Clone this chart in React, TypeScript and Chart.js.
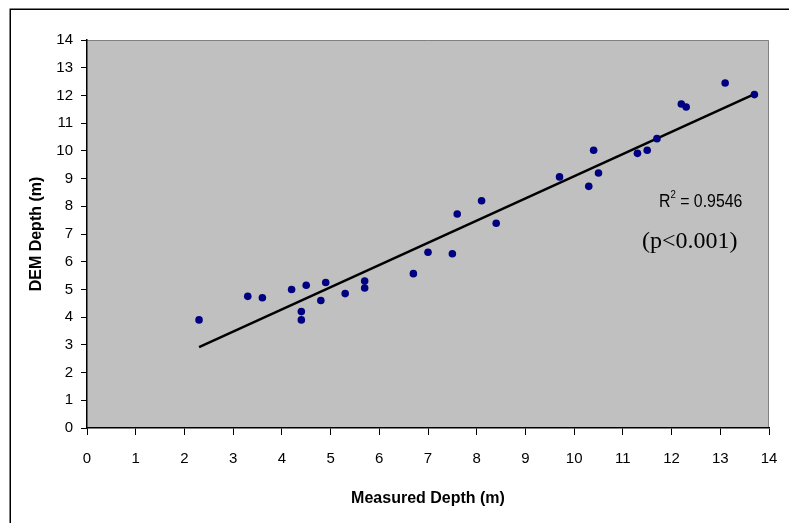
import React, { useEffect, useRef } from "react";
import { Chart, registerables } from "chart.js";

Chart.register(...registerables);

const measuredDepth = [2.3, 3.3, 3.6, 4.2, 4.5, 4.4, 4.4, 4.8, 4.9, 5.3, 5.7, 5.7, 6.7, 7.0, 7.5, 7.6, 8.1, 8.4, 9.7, 10.3, 10.4, 10.5, 11.3, 11.5, 11.7, 12.2, 12.3, 13.1, 13.7];
const demDepth = [3.9, 4.75, 4.7, 5.0, 5.15, 4.2, 3.9, 4.6, 5.25, 4.85, 5.3, 5.05, 5.57, 6.34, 6.29, 7.72, 8.2, 7.39, 9.06, 8.72, 10.02, 9.2, 9.91, 10.02, 10.44, 11.69, 11.58, 12.45, 12.03];
const trendX = [2.3, 13.7];
const trendY = [2.92, 12.05];
const xTicks = [0, 1, 2, 3, 4, 5, 6, 7, 8, 9, 10, 11, 12, 13, 14];
const yTicks = [0, 1, 2, 3, 4, 5, 6, 7, 8, 9, 10, 11, 12, 13, 14];
const r2Text = "0.9546";
const pText = "(p<0.001)";

const SANS = "'Liberation Sans', Arial, sans-serif";

export default function App() {
  const ref = useRef<HTMLCanvasElement | null>(null);
  useEffect(() => {
    if (!ref.current) return;
    const bgPlugin = {
      id: "bg",
      beforeDraw(chart: any) {
        const { ctx, chartArea: a } = chart;
        ctx.save();
        ctx.fillStyle = "#ffffff";
        ctx.fillRect(0, 0, chart.width, chart.height);
        ctx.strokeStyle = "#000000";
        ctx.lineWidth = 1.5;
        ctx.strokeRect(10.25, 9.25, 900, 700);
        ctx.fillStyle = "#c0c0c0";
        ctx.fillRect(a.left, a.top, a.right - a.left, a.bottom - a.top);
        ctx.strokeStyle = "#808080";
        ctx.lineWidth = 1;
        ctx.beginPath();
        ctx.moveTo(a.left, a.top + 0.5);
        ctx.lineTo(a.right - 0.5, a.top + 0.5);
        ctx.lineTo(a.right - 0.5, a.bottom);
        ctx.stroke();
        ctx.restore();
      },
      afterDraw(chart: any) {
        const { ctx } = chart;
        ctx.save();
        ctx.fillStyle = "#000000";
        ctx.textBaseline = "middle";
        ctx.textAlign = "left";
        const sx = 0.88;
        ctx.translate(659, 202);
        ctx.scale(sx, 1);
        let x = 0;
        ctx.font = "18px " + SANS;
        ctx.fillText("R", x, 0);
        x += ctx.measureText("R").width;
        ctx.font = "11px " + SANS;
        ctx.fillText("2", x, -7);
        x += ctx.measureText("2").width;
        ctx.font = "18px " + SANS;
        ctx.fillText(" = " + r2Text, x, 0);
        ctx.setTransform(1, 0, 0, 1, 0, 0);
        ctx.font = "24px 'Liberation Serif', 'Times New Roman', serif";
        ctx.fillText(pText, 642, 242);
        ctx.restore();
      },
    };
    const chart = new Chart(ref.current, {
      type: "scatter",
      data: {
        datasets: [
          {
            type: "scatter",
            data: measuredDepth.map((m, i) => ({ x: m, y: demDepth[i] })),
            backgroundColor: "#000080",
            borderColor: "#000080",
            pointRadius: 3.8,
            pointHoverRadius: 3.8,
            borderWidth: 0,
            order: 1,
          },
          {
            type: "line",
            data: trendX.map((t, i) => ({ x: t, y: trendY[i] })),
            borderColor: "#000000",
            borderWidth: 2.5,
            pointRadius: 0,
            fill: false,
            order: 2,
          } as any,
        ],
      },
      plugins: [bgPlugin],
      options: {
        responsive: false,
        animation: false,
        devicePixelRatio: 1,
        layout: { padding: { left: 0, top: 40, right: 20, bottom: 0 } },
        plugins: { legend: { display: false }, tooltip: { enabled: false } },
        scales: {
          x: {
            type: "linear",
            min: 0,
            max: 14,
            afterFit: (s: any) => { s.height = 95; s.paddingLeft = 0; s.paddingRight = 0; },
            afterBuildTicks: (s: any) => { s.ticks = xTicks.map((v) => ({ value: v })); },
            grid: { drawOnChartArea: false, tickLength: 7, color: "#000000", lineWidth: 1 },
            border: { color: "#000000", width: 1.5 },
            ticks: { color: "#000000", font: { family: SANS, size: 15 }, padding: 15, maxRotation: 0 },
            title: {
              display: true,
              text: "Measured Depth (m)",
              color: "#000000",
              font: { family: SANS, size: 16, weight: "bold" },
              padding: { top: 0, bottom: 14.5 },
            },
          },
          y: {
            type: "linear",
            min: 0,
            max: 14,
            afterFit: (s: any) => { s.width = 87; s.paddingTop = 0; s.paddingBottom = 0; },
            afterBuildTicks: (s: any) => { s.ticks = yTicks.map((v) => ({ value: v })); },
            grid: { drawOnChartArea: false, tickLength: 6, color: "#000000", lineWidth: 1 },
            border: { color: "#000000", width: 1.5 },
            ticks: { color: "#000000", font: { family: SANS, size: 15 }, padding: 8 },
            title: {
              display: true,
              text: "DEM Depth (m)",
              color: "#000000",
              font: { family: SANS, size: 16, weight: "bold" },
              padding: { top: 27, bottom: 0 },
            },
          },
        },
      },
    } as any);
    return () => chart.destroy();
  }, []);
  return (
    <div style={{ position: "absolute", left: 0, top: 0, width: 789, height: 523 }}>
      <canvas ref={ref} width={789} height={523} style={{ width: 789, height: 523 }} />
    </div>
  );
}
